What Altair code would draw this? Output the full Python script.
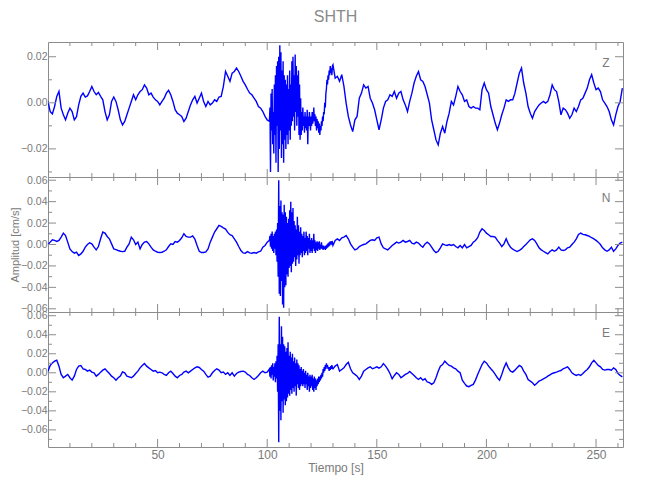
import altair as alt
import pandas as pd

# ---------------- data (cm/s) ----------------
T_A = list(range(0, 101))          # 0 .. 100 s, 1 s step
T_B = list(range(130, 263))        # 130 .. 262 s, 1 s step
N_BURST_PTS = 116                  # 101.0 .. 129.75 s, 0.25 s step
T_BURST = [101 + 0.25 * i for i in range(N_BURST_PTS)]

Z_A = [0.0006, -0.0038, -0.0048, -0.0016, 0.0028, 0.005, -0.0023, -0.0052, -0.0074, -0.0045,
       -0.0023, -0.0038, -0.0074, -0.006, -0.0009, 0.0028, 0.0042, 0.0025, 0.003, 0.0049,
       0.0071, 0.0049, 0.0035, 0.0045, 0.0028, 0.0013, -0.0038, -0.0074, -0.0052, 0.0006,
       0.0025, 0.0006, -0.003, -0.0074, -0.0096, -0.0081, -0.0052, -0.0023, 0.0006, 0.0035,
       0.0013, 0.0035, 0.0049, 0.0057, 0.0078, 0.0064, 0.0035, 0.0042, 0.0025, 0.0013,
       0.0006, -0.0009, 0.0006, 0.002, 0.0042, 0.0054, 0.0035, 0.0006, -0.003, -0.0045,
       -0.0052, -0.0059, -0.0081, -0.0067, -0.0038, -0.0009, 0.0013, 0.0028, -0.0001, 0.002,
       0.0042, 0.0006, -0.0016, 0.0006, -0.0009, -0.0001, 0.0013, 0.0006, 0.0025, 0.0028,
       0.0071, 0.0136, 0.0115, 0.0093, 0.0129, 0.0136, 0.0151, 0.0136, 0.0115, 0.0093,
       0.0078, 0.0059, 0.0042, 0.0035, 0.002, 0.0006, -0.0016, -0.0023, -0.0038, -0.0059,
       -0.0074]
Z_BURST = [-0.008, -0.002, -0.030, 0.004, -0.012, 0.006, -0.018, -0.004, -0.022, 0.008,
           -0.014, 0.012, -0.026, 0.016, -0.010, 0.018, -0.030, 0.020, -0.020, 0.025,
           -0.012, 0.022, -0.024, 0.014, -0.018, 0.018, -0.026, 0.012, -0.016, 0.010,
           -0.020, 0.008, -0.014, 0.012, -0.018, 0.006, -0.012, 0.014, -0.016, 0.008,
           -0.010, 0.018, -0.008, 0.020, -0.006, 0.012, -0.012, 0.021, -0.004, 0.016,
           -0.010, 0.012, -0.006, 0.014, -0.014, 0.008, -0.016, 0.002, -0.014, -0.004,
           -0.012, -0.002, -0.010, -0.006, -0.013, -0.004, -0.011, -0.006, -0.012, -0.003,
           -0.018, -0.006, -0.010, -0.004, -0.008, -0.012, -0.006, -0.010, -0.004, -0.009,
           -0.007, -0.002, -0.008, -0.005, -0.010, -0.006, -0.012, -0.007, -0.011, -0.008,
           -0.013, -0.009, -0.014, -0.010, -0.012, -0.008, -0.010, -0.006, -0.008, -0.004,
           -0.005, 0.000, -0.002, 0.004, 0.006, 0.010, 0.008, 0.012, 0.010, 0.014,
           0.012, 0.016, 0.013, 0.015, 0.012, 0.016]
Z_B = [0.0165, 0.0107, 0.0115, 0.0093, 0.0122, 0.0071, -0.0001, -0.0059, -0.0096, -0.0125,
       -0.0074, -0.0059, 0.002, 0.0042, 0.0078, 0.0064, 0.0071, 0.002, -0.0001, -0.003,
       -0.0074, -0.0117, -0.0074, -0.0023, 0.0006, 0.0013, 0.0035, 0.0028, 0.0049, 0.002,
       0.0042, 0.0049, 0.0013, -0.0009, -0.0038, 0.0006, 0.0042, 0.0086, 0.0115, 0.0136,
       0.01, 0.0093, 0.0071, 0.0035, -0.0001, -0.0074, -0.0117, -0.0161, -0.0183, -0.0132,
       -0.0103, -0.0132, -0.0081, -0.0045, 0.0006, -0.0009, 0.0028, 0.0071, 0.0049, 0.0035,
       0.0006, 0.0013, -0.0016, -0.0023, -0.0016, -0.0023, -0.0023, -0.003, 0.0057, 0.0086,
       0.0057, 0.0042, -0.0016, -0.0052, -0.0088, -0.0117, -0.0088, -0.0052, -0.0023, 0.0013,
       0.0006, 0.0013, 0.0013, 0.0042, 0.0086, 0.0129, 0.0151, 0.0086, 0.0042, -0.0016,
       -0.0045, -0.0067, -0.0038, -0.0023, -0.0009, -0.0001, 0.0006, -0.0001, 0.0006, 0.0035,
       0.0078, 0.0057, 0.0049, 0.0006, -0.0052, -0.0023, -0.003, -0.0045, -0.0067, -0.0052,
       -0.0023, -0.0038, -0.0016, 0.0013, 0.002, 0.0042, 0.0064, 0.01, 0.0122, 0.0086,
       0.0057, 0.0064, 0.0049, 0.0013, -0.0001, -0.0016, -0.0038, -0.0074, -0.0096, -0.0052,
       -0.0016, 0.0006, 0.0064]

N_A = [0.0, 0.0022, 0.0044, 0.0038, 0.0028, 0.0038, 0.0069, 0.0106, 0.0084, 0.0022,
       -0.0041, -0.0066, -0.0081, -0.0072, -0.0103, -0.0088, -0.0063, -0.0025, 0.0, 0.0016,
       0.0006, -0.0025, -0.005, -0.0019, 0.0053, 0.0116, 0.0106, 0.0075, 0.0053, 0.0006,
       -0.0041, -0.0047, -0.0056, -0.0063, -0.0066, -0.0063, -0.0025, 0.0006, 0.0069, 0.0044,
       0.0, 0.0022, -0.0041, 0.0, 0.0022, 0.0028, 0.0006, -0.0025, -0.005, -0.0063,
       -0.0072, -0.0075, -0.0072, -0.0063, -0.005, -0.0019, 0.0006, 0.0, 0.0028, 0.0022,
       0.0038, 0.0063, 0.01, 0.0075, 0.0069, 0.0069, 0.0081, 0.005, -0.0009, -0.0063,
       -0.0075, -0.0075, -0.0069, -0.0041, 0.0022, 0.0069, 0.0116, 0.0147, 0.0178, 0.0169,
       0.0156, 0.0144, 0.0113, 0.0091, 0.0084, 0.0053, 0.0022, -0.0019, -0.0056, -0.0078,
       -0.0081, -0.0066, -0.0078, -0.0081, -0.0075, -0.0081, -0.0069, -0.0063, -0.0025, -0.0009,
       0.0022]
N_BURST = [0.004, 0.008, -0.002, 0.010, -0.004, 0.012, -0.006, 0.008, -0.008, 0.010,
           -0.004, 0.012, -0.010, 0.014, -0.016, 0.020, -0.030, 0.060, -0.046, 0.036,
           -0.048, 0.041, -0.034, 0.030, -0.056, 0.028, -0.059, 0.037, -0.040, 0.030,
           -0.038, 0.026, -0.028, 0.020, -0.030, 0.024, -0.022, 0.032, -0.020, 0.040,
           -0.026, 0.030, -0.018, 0.034, -0.016, 0.022, -0.012, 0.018, -0.020, 0.014,
           -0.014, 0.026, -0.010, 0.018, -0.018, 0.012, -0.010, 0.016, -0.008, 0.010,
           -0.012, 0.008, -0.006, 0.012, -0.010, 0.006, -0.008, 0.012, -0.006, 0.008,
           -0.010, 0.006, -0.004, 0.010, -0.008, 0.004, -0.006, 0.006, -0.008, 0.004,
           -0.004, 0.010, -0.006, 0.004, -0.008, 0.002, -0.005, 0.003, -0.006, 0.002,
           -0.004, 0.003, -0.005, 0.000, -0.004, 0.002, -0.004, -0.001, -0.005, -0.001,
           -0.004, -0.002, -0.005, -0.001, -0.004, 0.000, -0.003, 0.001, -0.002, 0.002,
           -0.001, 0.003, 0.000, 0.003, 0.001, 0.002]
N_B = [-0.0009, 0.0038, 0.0053, 0.0038, 0.0063, 0.0069, 0.0084, 0.0053, 0.0006, -0.0025,
       -0.005, -0.0041, -0.0019, -0.0009, 0.0, 0.0006, 0.0022, 0.0038, 0.0044, 0.0038,
       0.0063, 0.0069, 0.0006, -0.0031, -0.0041, -0.005, -0.0031, -0.0009, 0.0006, 0.0022,
       0.0013, 0.0022, 0.0038, 0.0022, 0.0028, 0.0038, 0.0013, 0.0006, 0.0022, 0.0013,
       -0.0009, -0.0025, 0.0006, 0.0022, 0.0006, -0.0025, -0.0056, -0.0075, -0.0063, -0.0031,
       0.0006, -0.0003, -0.0009, 0.0, -0.0009, 0.0, -0.0019, -0.0031, -0.0009, -0.0031,
       0.0, -0.0031, -0.0019, -0.0009, 0.0022, 0.0038, 0.0063, 0.0116, 0.0147, 0.0131,
       0.0106, 0.0091, 0.0075, 0.0075, 0.0069, 0.0038, 0.0013, -0.0019, 0.0006, 0.0053,
       0.0006, -0.0025, -0.0044, -0.0056, -0.0066, -0.0056, -0.0041, -0.0019, 0.0, 0.0022,
       0.0044, 0.0053, 0.0038, 0.0006, -0.0031, -0.005, -0.0063, -0.0075, -0.0088, -0.0066,
       -0.005, -0.0063, -0.005, -0.0025, -0.005, -0.0056, -0.005, -0.0031, -0.0025, 0.0,
       0.0022, 0.0053, 0.0094, 0.0106, 0.0094, 0.0091, 0.0084, 0.0075, 0.0063, 0.0053,
       0.0038, 0.0022, 0.0, -0.0031, -0.005, -0.0063, -0.005, -0.0025, -0.0063, -0.0041,
       -0.0009, 0.0013, 0.0022]

E_A = [0.0017, 0.0077, 0.0104, 0.0122, 0.0132, 0.007, -0.0017, -0.0052, -0.0035, -0.0017,
       -0.0052, -0.0077, -0.0035, 0.0035, 0.007, 0.0077, 0.0042, 0.0035, 0.0017, 0.0028,
       0.0007, 0.0, -0.0035, -0.0017, 0.0007, 0.0028, 0.0042, 0.0017, -0.0007, -0.0035,
       -0.0052, -0.0077, -0.0052, -0.0035, 0.001, 0.0, -0.0035, -0.0042, -0.0052, -0.0035,
       -0.0007, 0.0017, 0.0052, 0.0077, 0.0097, 0.007, 0.0052, 0.0035, 0.0017, 0.0024,
       0.0, 0.0007, 0.0, -0.0017, -0.0028, 0.0, 0.0017, -0.0007, -0.0035, -0.0052,
       -0.0028, -0.0017, 0.0007, 0.0017, 0.0, 0.0017, 0.0035, 0.0052, 0.0063, 0.0056,
       0.0035, 0.0017, -0.0017, -0.0045, -0.0035, 0.0, 0.0024, 0.0042, 0.0028, 0.0,
       0.0007, -0.0017, 0.0, -0.0028, 0.0, -0.0035, -0.0007, 0.0007, 0.0014, 0.0017,
       0.0007, -0.0017, -0.0028, -0.0052, -0.007, -0.0052, -0.0028, 0.0, 0.0017, 0.0,
       0.0007]
E_BURST = [0.004, -0.004, 0.006, -0.006, 0.008, -0.002, 0.010, -0.008, 0.006, -0.004,
           0.010, -0.010, 0.012, -0.006, 0.018, -0.020, 0.030, -0.073, 0.059, -0.040,
           0.030, -0.050, 0.049, -0.030, 0.038, -0.042, 0.030, -0.028, 0.028, -0.034,
           0.022, -0.030, 0.026, -0.026, 0.032, -0.022, 0.018, -0.024, 0.022, -0.018,
           0.016, -0.022, 0.020, -0.016, 0.012, -0.020, 0.016, -0.014, 0.010, -0.024,
           0.014, -0.012, 0.010, -0.016, 0.008, -0.018, 0.004, -0.014, 0.006, -0.012,
           0.002, -0.014, 0.004, -0.012, 0.000, -0.016, 0.002, -0.012, -0.002, -0.018,
           0.000, -0.014, -0.004, -0.020, -0.002, -0.016, -0.004, -0.014, -0.002, -0.018,
           -0.006, -0.020, -0.004, -0.016, -0.006, -0.018, -0.008, -0.014, -0.006, -0.012,
           -0.004, -0.010, -0.004, -0.008, -0.002, -0.006, 0.000, -0.004, 0.004, 0.000,
           0.006, 0.002, 0.008, 0.004, 0.010, 0.006, 0.008, 0.004, 0.006, 0.002,
           0.006, 0.003, 0.007, 0.004, 0.008, 0.005]
E_B = [0.0042, 0.007, 0.0087, 0.0017, 0.0035, 0.0052, 0.0087, 0.0111, 0.0042, 0.0,
       -0.0017, -0.0035, -0.007, -0.0035, 0.0017, 0.0035, 0.0052, 0.0063, 0.0042, 0.0052,
       0.0063, 0.0049, 0.0063, 0.0097, 0.007, 0.0035, -0.0007, -0.0063, -0.0028, 0.0,
       -0.0017, -0.0052, -0.0035, -0.0017, -0.0007, 0.0014, -0.0007, -0.0028, -0.0052, -0.007,
       -0.0052, -0.0077, -0.0063, -0.0097, -0.0104, -0.0122, -0.0104, -0.0052, 0.0017, 0.007,
       0.0087, 0.0122, 0.0097, 0.0077, 0.007, 0.0052, 0.0042, 0.0017, 0.0, -0.0077,
       -0.0111, -0.0139, -0.0146, -0.0132, -0.0122, -0.0077, -0.0017, 0.0035, 0.0087, 0.0122,
       0.0104, 0.007, 0.0042, 0.0017, -0.0017, -0.0052, -0.0077, -0.0017, 0.0052, 0.0104,
       0.0052, 0.0017, 0.0007, 0.0028, 0.0052, 0.0077, 0.0063, 0.0017, -0.0017, -0.007,
       -0.0087, -0.0104, -0.0132, -0.0111, -0.0087, -0.0077, -0.0063, -0.0052, -0.0035, -0.0021,
       -0.0007, 0.0, 0.0007, 0.0017, 0.0024, 0.0042, 0.0052, 0.0063, 0.0035, 0.0,
       -0.0017, -0.0028, -0.0017, -0.0028, -0.0007, 0.0017, 0.0035, 0.0063, 0.0104, 0.0132,
       0.0104, 0.0077, 0.0063, 0.0035, 0.0028, 0.0035, 0.0035, 0.0028, 0.0052, 0.0035,
       -0.0007, -0.0028, -0.0042]

X_DOMAIN = [0, 262.3]
X_MAJOR = [50, 100, 150, 200, 250]
X_MINOR = [10, 20, 30, 40, 60, 70, 80, 90, 110, 120, 130, 140, 160, 170, 180, 190,
           210, 220, 230, 240, 260]
X_LABELS = [50, 100, 150, 200, 250]

Z_DOMAIN = [-0.0322, 0.0264]
Z_MAJOR = [-0.02, 0.0, 0.02]
Z_MINOR = [-0.03, -0.01, 0.01]
N_DOMAIN = [-0.063, 0.063]
N_MAJOR = [-0.06, -0.04, -0.02, 0.0, 0.02, 0.04, 0.06]
N_MINOR = [-0.05, -0.03, -0.01, 0.01, 0.03, 0.05]
E_DOMAIN = [-0.078, 0.0639]
E_MAJOR = [-0.06, -0.04, -0.02, 0.0, 0.02, 0.04, 0.06]
E_MINOR = [-0.07, -0.05, -0.03, -0.01, 0.01, 0.03, 0.05]

# ---------------- style ----------------
W, H = 575, 135
FONT = "Liberation Sans"
FRAME = "#8c8c8c"
TEXT = "#7a7a7a"
BLUE = "#0000ff"
MAJ_LEN, MIN_LEN = 8, 4


def panel(vals_a, burst, vals_b, ydom, ymaj, ymin, label, bottom=False, ytitle=None, title=None):
    df = pd.DataFrame({"t": T_A + T_BURST + T_B, "v": vals_a + burst + vals_b})
    xs = alt.Scale(domain=X_DOMAIN, nice=False, zero=False)
    ys = alt.Scale(domain=ydom, nice=False, zero=False)
    if bottom:
        xaxis = alt.Axis(values=X_LABELS, format="d", ticks=False, domain=False, grid=False,
                         labelColor=TEXT, labelFont=FONT, labelFontSize=12, labelPadding=2,
                         labelFlush=False, labelOverlap=False,
                         title="Tiempo [s]", titleColor=TEXT, titleFont=FONT, titleFontSize=12,
                         titleFontWeight="normal", titlePadding=2)
    else:
        xaxis = None
    yaxis = alt.Axis(values=ymaj, format=".2f", ticks=False, domain=False, grid=False,
                     labelColor=TEXT, labelFont=FONT, labelFontSize=10.5, labelPadding=1,
                     labelFlush=False, labelOverlap=False,
                     title=ytitle, titleColor=TEXT, titleFont=FONT, titleFontSize=11,
                     titleFontWeight="normal", titlePadding=0)
    X = alt.X("t:Q", scale=xs, axis=xaxis)
    Y = alt.Y("v:Q", scale=ys, axis=yaxis)

    line = alt.Chart(df).mark_line(color=BLUE, strokeWidth=1.4, clip=True).encode(x=X, y=Y)

    layers = [line]
    for vals, ln in ((X_MAJOR, MAJ_LEN), (X_MINOR, MIN_LEN)):
        d = pd.DataFrame({"t": vals})
        layers.append(alt.Chart(d).mark_rule(color=FRAME, strokeWidth=1).encode(
            x=X, y=alt.value(0), y2=alt.value(ln)))
        layers.append(alt.Chart(d).mark_rule(color=FRAME, strokeWidth=1).encode(
            x=X, y=alt.value(H - ln), y2=alt.value(H)))
    for vals, ln in ((ymaj, MAJ_LEN), (ymin, MIN_LEN)):
        d = pd.DataFrame({"v": vals})
        layers.append(alt.Chart(d).mark_rule(color=FRAME, strokeWidth=1).encode(
            y=Y, x=alt.value(0), x2=alt.value(ln)))
        layers.append(alt.Chart(d).mark_rule(color=FRAME, strokeWidth=1).encode(
            y=Y, x=alt.value(W - ln), x2=alt.value(W)))
    layers.append(alt.Chart(pd.DataFrame({"c": [label]})).mark_text(
        font=FONT, fontSize=12, color=TEXT, align="center", baseline="middle").encode(
        text="c:N", x=alt.value(W - 17), y=alt.value(21)))

    props = dict(width=W, height=H)
    if title:
        props["title"] = alt.TitleParams(title, font=FONT, fontSize=16, fontWeight="normal",
                                         color="#8a8a8a", anchor="middle", frame="group", offset=17)
    return alt.layer(*layers).properties(**props)


p1 = panel(Z_A, Z_BURST, Z_B, Z_DOMAIN, Z_MAJOR, Z_MINOR, "Z", title="SHTH")
p2 = panel(N_A, N_BURST, N_B, N_DOMAIN, N_MAJOR, N_MINOR, "N", ytitle="Amplitud [cm/s]")
p3 = panel(E_A, E_BURST, E_B, E_DOMAIN, E_MAJOR, E_MINOR, "E", bottom=True)

chart = alt.vconcat(p1, p2, p3, spacing=0, bounds="flush").properties(
    padding={"left": 0, "top": 0, "right": 5, "bottom": 5}
).configure_view(stroke=FRAME, strokeWidth=1)

chart.save("out.html", embed_options={"renderer": "svg", "actions": False})
